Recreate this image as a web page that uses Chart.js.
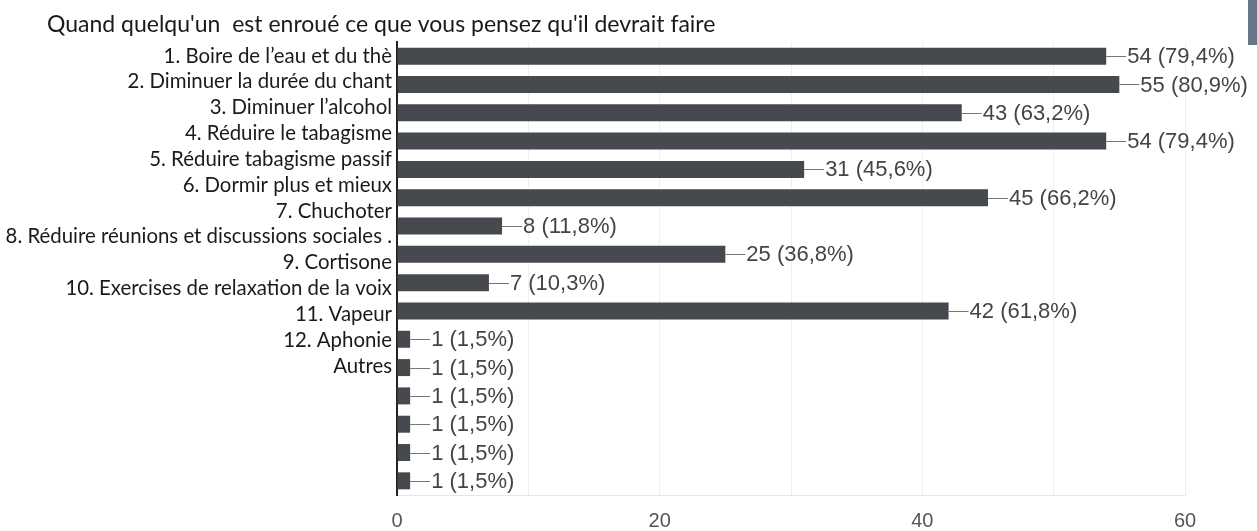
<!DOCTYPE html>
<html>
<head>
<meta charset="utf-8">
<script src="https://cdn.jsdelivr.net/npm/chart.js@4"></script>
<style>
  html, body { margin: 0; padding: 0; background: #fff; }
  #wrap { position: relative; width: 1257px; height: 531px; }
  #coin { position: absolute; left: 1248px; top: 0; width: 9px; height: 45px; background: #66778a; }
</style>
</head>
<body>
<div id="wrap">
  <canvas id="graphique" width="1257" height="531"></canvas>
  <div id="coin"></div>
</div>
<script>
// Données
const titre = "Quand quelqu'un  est enroué ce que vous pensez qu'il devrait faire";
// les libellés sont collés par-dessus, avec un pas différent de celui des barres
const categories = [
  '1. Boire de l\u2019eau et du thè',
  '2. Diminuer la durée du chant',
  '3. Diminuer l\u2019alcohol',
  '4. Réduire le tabagisme',
  '5. Réduire tabagisme passif',
  '6. Dormir plus et mieux',
  '7. Chuchoter',
  '8. Réduire réunions et discussions sociales .',
  '9. Cortisone',
  '10. Exercises de relaxation de la voix',
  '11. Vapeur',
  '12. Aphonie',
  'Autres'
];
const reponses = [54, 55, 43, 54, 31, 45, 8, 25, 7, 42, 1, 1, 1, 1, 1, 1];
const pourcentages = ['79,4%', '80,9%', '63,2%', '79,4%', '45,6%', '66,2%', '11,8%', '36,8%', '10,3%', '61,8%',
  '1,5%', '1,5%', '1,5%', '1,5%', '1,5%', '1,5%'];
const lignes = reponses.map((_, i) => 'ligne ' + (i + 1));
const xTickLabels = [0, 20, 40, 60];

// Titre dessiné en haut à gauche
const pluginTitre = {
  id: 'titre',
  beforeDraw(chart) {
    const c = chart.ctx;
    c.save();
    c.font = '23px Lato';
    c.fillStyle = '#1a1a1a';
    c.textBaseline = 'alphabetic';
    c.fillText(titre, 47, 32);
    c.restore();
  }
};

// Étiquettes de valeur avec petit trait
const pluginValeurs = {
  id: 'valeurs',
  afterDatasetsDraw(chart) {
    const c = chart.ctx;
    const meta = chart.getDatasetMeta(0);
    c.save();
    c.font = '22px "Liberation Sans", Arial';
    c.fillStyle = '#444';
    c.strokeStyle = '#777';
    c.lineWidth = 1;
    c.textBaseline = 'middle';
    meta.data.forEach((bar, i) => {
      const y = Math.round(bar.y) + 0.5;
      c.beginPath();
      c.moveTo(bar.x, y);
      c.lineTo(bar.x + 20, y);
      c.stroke();
      c.fillText(reponses[i] + ' (' + pourcentages[i] + ')', bar.x + 21, bar.y + 1);
    });
    c.restore();
  }
};

const ctx = document.getElementById('graphique').getContext('2d');

const chart = new Chart(ctx, {
  type: 'bar',
  data: {
    labels: lignes,
    datasets: [{
      data: reponses,
      backgroundColor: '#46494e',
      borderWidth: 0,
      barPercentage: 1,
      categoryPercentage: 0.6
    }]
  },
  options: {
    indexAxis: 'y',
    responsive: false,
    animation: false,
    layout: { padding: { top: 42, right: 72, bottom: 0, left: 0 } },
    plugins: {
      legend: { display: false },
      tooltip: { enabled: false }
    },
    scales: {
      x: {
        min: 0,
        max: 60,
        afterFit(scale) { scale.height = 36; },
        ticks: {
          stepSize: 10,
          padding: 14,
          color: '#555',
          font: { family: '"Liberation Sans", Arial', size: 20 },
          callback: (v) => xTickLabels.includes(v) ? String(v) : ''
        },
        grid: { color: '#efefef', drawTicks: false },
        border: { color: '#e6e6e6' }
      },
      y: {
        display: false
      },
      // axe des libellés, pas de 25,8 px au lieu de 28,3 px
      noms: {
        type: 'linear',
        position: 'left',
        reverse: true,
        offset: false,
        min: -0.542,
        max: 16.995,
        afterFit(scale) { scale.width = 397; },
        afterBuildTicks(scale) { scale.ticks = categories.map((_, i) => ({ value: i })); },
        ticks: {
          autoSkip: false,
          padding: 5,
          color: '#1a1a1a',
          font: { family: 'Lato', size: 20.4 },
          callback: (v, i) => categories[i]
        },
        grid: { display: false, drawTicks: false, offset: false },
        border: { color: '#222', width: 2 }
      }
    }
  },
  plugins: [pluginTitre, pluginValeurs]
});
</script>
</body>
</html>
